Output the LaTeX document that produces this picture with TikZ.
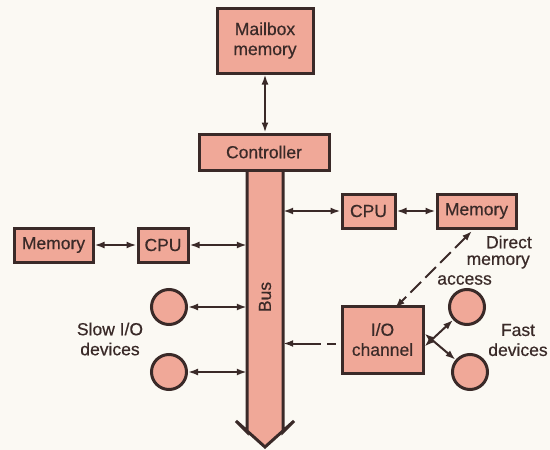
\documentclass[tikz,border=0pt]{standalone}
\usepackage{fontspec}
\setmainfont{Liberation Sans}[FakeBold=0.5]
\usetikzlibrary{arrows.meta}
\definecolor{boxfill}{RGB}{240,168,152}
\definecolor{ink}{RGB}{58,42,40}
\definecolor{paper}{RGB}{251,249,243}
\tikzset{
  box/.style={draw=ink, line width=3pt, fill=boxfill, text=ink, align=center, inner sep=0pt, font=\fontsize{17.5}{20}\selectfont},
  dev/.style={draw=ink, line width=3pt, fill=boxfill, circle, inner sep=0pt, minimum size=35pt},
  lbl/.style={text=ink, align=center, inner sep=0pt, font=\fontsize{17.5}{20}\selectfont},
  arr/.style={draw=ink, line width=2pt, {Latex[length=10pt,width=7pt]}-{Latex[length=10pt,width=7pt]}},
  arrone/.style={draw=ink, line width=2pt, -{Latex[length=10pt,width=7pt]}},
}
\begin{document}
\begin{tikzpicture}[x=1pt,y=-1pt]
\fill[paper] (0,0) rectangle (550,450);
\useasboundingbox (0,0) rectangle (550,450);
% bus
\node[minimum width=36pt, minimum height=262pt, inner sep=0pt] (bus) at (265,301) {};
\filldraw[draw=ink, fill=boxfill, line width=3pt, line join=miter]
  (247,168) -- (247,432) -- (236,421) -- (265,447) -- (294,421) -- (283,432) -- (283,168);
\node[lbl, rotate=90] (buslbl) at (265,297) {Bus};
% top
\node[box, minimum width=96pt, minimum height=65pt] (mail) at (265,40.5) {Mailbox\\memory};
\node[box, minimum width=130pt, minimum height=36pt] (ctrl) at (264,152) {Controller};
\draw[arr] (mail.south) -- (mail.south |- ctrl.north);
% left
\node[box, minimum width=79pt, minimum height=34pt] (memL) at (53.5,245) {Memory};
\node[box, minimum width=50pt, minimum height=34pt] (cpuL) at (163,245) {CPU};
\draw[arr] (memL) -- (cpuL);
\draw[arr] (cpuL.east) -- (cpuL.east -| bus.west);
\node[dev] (s1) at (169,307) {};
\node[dev] (s2) at (169,372) {};
\draw[arr] (s1.east) -- (s1.east -| bus.west);
\draw[arr] (s2.east) -- (s2.east -| bus.west);
\node[lbl] (slow) at (110,339) {Slow I/O\\devices};
% right
\node[box, minimum width=53pt, minimum height=34pt] (cpuR) at (368.5,211) {CPU};
\node[box, minimum width=79pt, minimum height=34pt] (memR) at (476.5,211) {Memory};
\draw[arr] (cpuR.west -| bus.east) -- (cpuR.west);
\draw[arr] (cpuR) -- (memR);
\node[box, minimum width=81pt, minimum height=67pt] (io) at (382.5,339.5) {I/O\\channel};
\coordinate (dmaA) at (472,231);
\coordinate (dmaB) at (395,308);
\draw[arr, dash pattern=on 15pt off 6pt] (dmaA) -- (dmaB);
\coordinate (ioW) at ([yshift=-4pt]io.west);
\draw[arrone, dash pattern=on 0pt off 5pt on 9pt off 6pt on 80pt off 1pt] (ioW) -- (ioW -| bus.east);
\node[lbl, anchor=east] (dma1) at (532,242) {Direct};
\node[lbl, anchor=east] (dma2) at (530,262) {memory};
\node[lbl, anchor=east] (dma3) at (492,280) {access};
\node[dev] (f1) at (467,307) {};
\node[dev] (f2) at (470,372) {};
\coordinate (ioE1) at ([yshift=-7pt]io.east);
\coordinate (ioE2) at ([yshift=6pt]io.east);
\draw[arr] (ioE1) -- (f1);
\draw[arr] (ioE2) -- (f2);
\node[lbl] (fast) at (518,340) {Fast\\devices};
\end{tikzpicture}
\end{document}
